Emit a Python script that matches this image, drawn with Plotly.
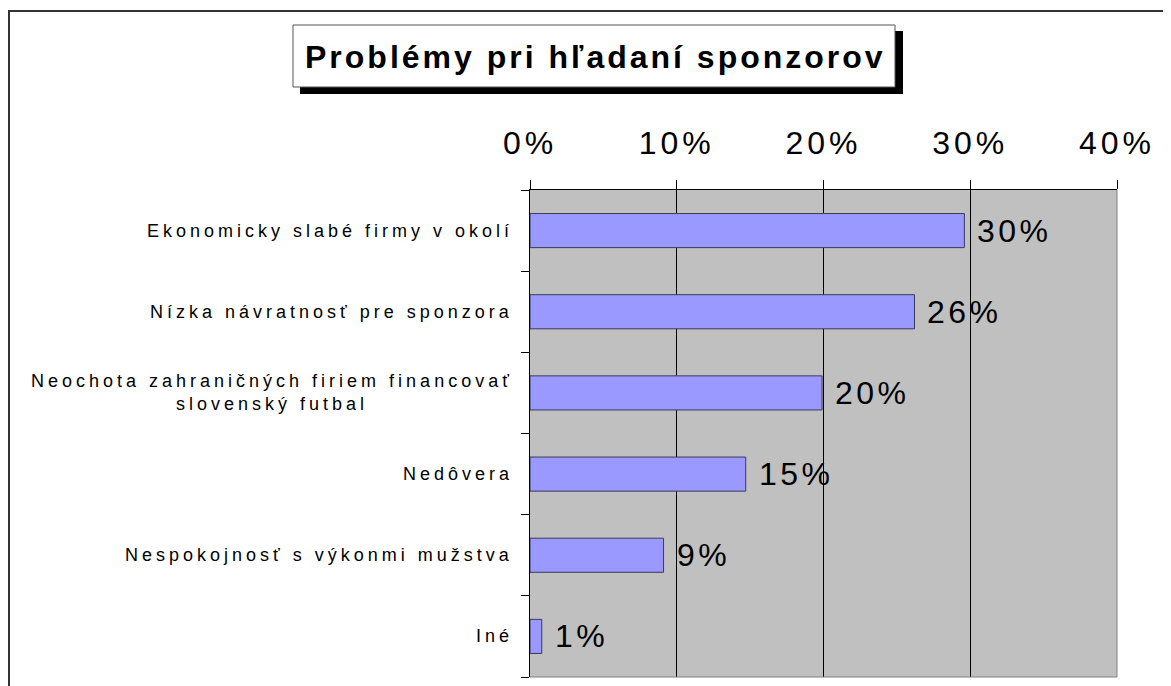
import plotly.graph_objects as go

# data
categories = [
    "Ekonomicky slabé firmy v okolí",
    "Nízka návratnosť pre sponzora",
    "Neochota zahraničných firiem financovať<br>slovenský futbal",
    "Nedôvera",
    "Nespokojnosť s výkonmi mužstva",
    "Iné",
]
values = [29.6, 26.2, 19.9, 14.7, 9.1, 0.8]
value_labels = ["30%", "26%", "20%", "15%", "9%", "1%"]
tick_values = [0, 10, 20, 30, 40]
tick_labels = ["0%", "10%", "20%", "30%", "40%"]
title_text = "Problémy pri hľadaní sponzorov"

FONT = "Liberation Sans, Arial, sans-serif"
OFF = 8  # page body margin
W, H = 1171 - OFF, 686 - OFF
L, R, T, B = 530 - OFF, 54, 190 - OFF, 9


def px_x(px):
    # page pixel -> paper x
    return (px - OFF - L) / (W - L - R)


def px_y(py):
    # page pixel -> paper y
    return (H - B - (py - OFF)) / (H - T - B)


def spaced(text, px):
    return "<br>".join(f'<span style="letter-spacing:{px}px">{s}</span>' for s in text.split("<br>"))


fig = go.Figure()
fig.add_trace(go.Bar(
    x=values, y=categories, orientation="h",
    marker=dict(color="#9999FF", line=dict(color="#3a3a5a", width=1)),
    width=0.42, hoverinfo="skip",
))

# value labels right of the bars
for c, v, t in zip(categories, values, value_labels):
    fig.add_annotation(x=v, y=c, xref="x", yref="y", text=spaced(t, 3.5), showarrow=False,
                       xanchor="left", yanchor="middle", xshift=11,
                       font=dict(family=FONT, size=32, color="black"))

# category labels
for c in categories:
    fig.add_annotation(x=0, y=c, xref="paper", yref="y", text=spaced(c, 4), showarrow=False,
                       xanchor="right", yanchor="middle", xshift=-15, align="center",
                       font=dict(family=FONT, size=18, color="black"))

# title box with shadow
fig.add_shape(type="rect", xref="paper", yref="paper", x0=px_x(300), x1=px_x(903), y0=px_y(31), y1=px_y(94),
              fillcolor="black", line=dict(width=0), layer="above")
fig.add_shape(type="rect", xref="paper", yref="paper", x0=px_x(293), x1=px_x(895), y0=px_y(25), y1=px_y(87),
              fillcolor="white", line=dict(color="#555555", width=1), layer="above")
fig.add_annotation(x=px_x(595), y=px_y(57), xref="paper", yref="paper", text=spaced(f"<b>{title_text}</b>", 3),
                   showarrow=False, xanchor="center", yanchor="middle",
                   font=dict(family=FONT, size=32, color="black"))

# outer frame
fig.add_shape(type="rect", xref="paper", yref="paper", x0=px_x(9), x1=px_x(1200), y0=px_y(720), y1=px_y(11),
              line=dict(color="#333333", width=2), fillcolor="rgba(0,0,0,0)", layer="below")
# gray right and bottom edges of the plot area
fig.add_shape(type="line", xref="paper", yref="paper", x0=1, x1=1, y0=0, y1=1,
              line=dict(color="#808080", width=1), layer="above")
fig.add_shape(type="line", xref="paper", yref="paper", x0=0, x1=1, y0=0, y1=0,
              line=dict(color="#808080", width=1), layer="above")

fig.update_layout(
    width=W, height=H, autosize=False,
    margin=dict(l=L, r=R, t=T, b=B),
    paper_bgcolor="white", plot_bgcolor="#C0C0C0",
    showlegend=False,
    font=dict(family=FONT, color="black"),
    xaxis=dict(
        side="top", range=[0, 40], tickvals=tick_values,
        ticktext=[spaced(t, 4) for t in tick_labels],
        tickfont=dict(size=32, color="black"),
        ticks="outside", ticklen=9, tickcolor="black",
        showgrid=True, gridcolor="black", gridwidth=1,
        showline=True, linecolor="black", linewidth=1,
        zeroline=False, ticklabelstandoff=13,
    ),
    yaxis=dict(
        type="category", categoryorder="array", categoryarray=categories[::-1],
        showticklabels=False,
        ticks="outside", ticklen=8, tickcolor="black", tickson="boundaries",
        showgrid=False, showline=True, linecolor="black", linewidth=1, zeroline=False,
    ),
)

fig.write_html("out.html")
